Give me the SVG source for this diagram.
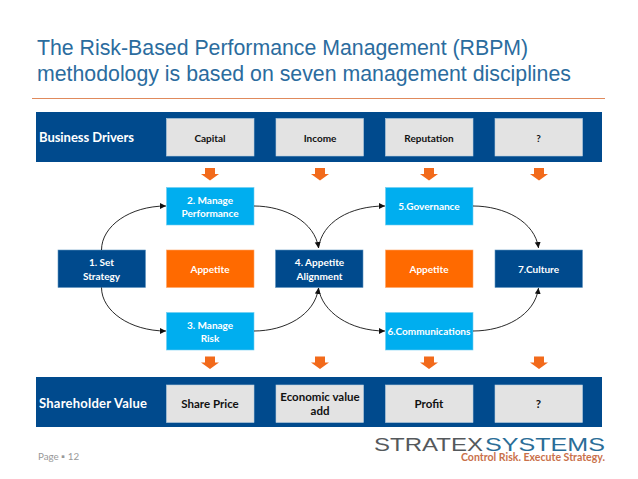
<svg xmlns="http://www.w3.org/2000/svg" width="638" height="479" viewBox="0 0 638 479">
<style>
text{font-family:"Lato","Open Sans","Liberation Sans",sans-serif;text-anchor:middle;font-size:10px;font-weight:700}
.t{font-family:"Liberation Sans",Arial,sans-serif;font-size:21.3px;font-weight:400;fill:#2b6c9e;text-anchor:start}
.band{fill:#004a8d}
.g{fill:#e3e3e3;stroke:#b9cfe0;stroke-width:.6}
.c{fill:#00aeef;stroke:#6fcdf0;stroke-width:.6}
.d{fill:#004a8d;stroke:#5f95c0;stroke-width:.6}
.o{fill:#ff6a00;stroke:#ffa566;stroke-width:.6}
.w{fill:#fff}.k{fill:#111}
.b{font-size:11.500px}
.h{fill:#fff;font-size:13px;text-anchor:start}
.a{fill:#f26a1b}
.e{fill:none;stroke:#111;stroke-width:.9;marker-end:url(#m)}
.l{font-family:"Liberation Sans",sans-serif;font-weight:400;font-size:18px;text-anchor:start}
</style>
<defs>
<marker id="m" markerUnits="userSpaceOnUse" markerWidth="7" markerHeight="7" refX="6" refY="3" orient="auto"><path d="M0 0L6 3L0 6z" fill="#111"/></marker>
<path id="ar" d="M-5 -6H5V0H9L0 6.500L-9 0H-5z"/>
</defs>
<rect width="638" height="479" fill="#fff"/>
<text class="t" x="37" y="54.500">The Risk-Based Performance Management (RBPM)</text>
<text class="t" x="37" y="80.500">methodology is based on seven management disciplines</text>
<rect x="32" y="98" width="573" height="1" fill="#e08a5c"/>
<g id="band-top"><rect class="band" x="36" y="112" width="566" height="50"/><text class="h" x="39" y="142" textLength="95">Business Drivers</text></g>
<g id="band-bottom"><rect class="band" x="36" y="377" width="566" height="50"/><text class="h" x="39" y="407.500" textLength="108">Shareholder Value</text></g>
<g id="capital"><rect class="g" x="166.500" y="118.500" width="87.500" height="37.500"/><text class="k" x="210" y="141.500">Capital</text></g>
<g id="income"><rect class="g" x="276" y="118.500" width="87.500" height="37.500"/><text class="k" x="320" y="141.500">Income</text></g>
<g id="reputation"><rect class="g" x="385.500" y="118.500" width="87.500" height="37.500"/><text class="k" x="429" y="141.500">Reputation</text></g>
<g id="q1"><rect class="g" x="495" y="118.500" width="87.500" height="37.500"/><text class="k" x="538.500" y="141.500">?</text></g>
<g id="n2"><rect class="c" x="166.500" y="187.500" width="87.500" height="37.500"/><text class="w" x="210" y="203.500">2. Manage</text><text class="w" x="210" y="216.500">Performance</text></g>
<g id="n5"><rect class="c" x="385.500" y="187.500" width="87.500" height="37.500"/><text class="w" x="429" y="210">5.Governance</text></g>
<g id="n1"><rect class="d" x="58" y="250" width="87.500" height="37.500"/><text class="w" x="101.500" y="266">1. Set</text><text class="w" x="101.500" y="279.500">Strategy</text></g>
<g id="appetite1"><rect class="o" x="166.500" y="250" width="87.500" height="37.500"/><text class="w" x="210" y="272.500">Appetite</text></g>
<g id="n4"><rect class="d" x="275.500" y="250" width="87.500" height="37.500"/><text class="w" x="319.500" y="266">4. Appetite</text><text class="w" x="319.500" y="279.500">Alignment</text></g>
<g id="appetite2"><rect class="o" x="385.500" y="250" width="87.500" height="37.500"/><text class="w" x="429" y="272.500">Appetite</text></g>
<g id="n7"><rect class="d" x="495" y="250" width="87.500" height="37.500"/><text class="w" x="538.500" y="272.500">7.Culture</text></g>
<g id="n3"><rect class="c" x="166.500" y="312.500" width="87.500" height="37.500"/><text class="w" x="210" y="328.500">3. Manage</text><text class="w" x="210" y="341.500">Risk</text></g>
<g id="n6"><rect class="c" x="385.500" y="312.500" width="87.500" height="37.500"/><text class="w" x="429" y="335">6.Communications</text></g>
<g id="share"><rect class="g" x="166.500" y="385" width="87.500" height="37.500"/><text class="k b" x="210" y="408">Share Price</text></g>
<g id="eva"><rect class="g" x="276" y="385" width="87.500" height="37.500"/><text class="k b" x="320" y="401">Economic value</text><text class="k b" x="320" y="415">add</text></g>
<g id="profit"><rect class="g" x="385.500" y="385" width="87.500" height="37.500"/><text class="k b" x="429" y="408">Profit</text></g>
<g id="q2"><rect class="g" x="495" y="385" width="87.500" height="37.500"/><text class="k b" x="538.500" y="408">?</text></g>
<g id="connectors">
<path class="e" d="M101.500 250C101.500 226 130 206 166 206"/>
<path class="e" d="M254 206C285 206 315 222 318.500 248"/>
<path class="e" d="M318.500 248C322 222 350 206 385 206"/>
<path class="e" d="M473 206C505 206 535 222 538.500 248"/>
<path class="e" d="M101.500 287.500C101.500 311 130 331 166 331"/>
<path class="e" d="M254 331C285 331 315 315 318.500 288"/>
<path class="e" d="M318.500 288C322 312 350 331 385 331"/>
<path class="e" d="M473 331C505 331 535 315 538.500 288"/>
<g class="a">
<use href="#ar" x="210" y="174"/><use href="#ar" x="320" y="174"/><use href="#ar" x="429" y="174"/><use href="#ar" x="539" y="174"/>
<use href="#ar" x="210" y="362.500"/><use href="#ar" x="320" y="362.500"/><use href="#ar" x="429" y="362.500"/><use href="#ar" x="539" y="362.500"/>
</g>
</g>
<g id="footer">
<text x="38" y="460" style="font-weight:400;fill:#999;font-size:9.800px;text-anchor:start">Page ▪ 12</text>
<text class="l" x="374" y="451" textLength="109" lengthAdjust="spacingAndGlyphs" style="fill:#55595c">STRATEX</text>
<text class="l" x="485" y="451" textLength="120" lengthAdjust="spacingAndGlyphs" style="fill:#2a6d97">SYSTEMS</text>
<text x="461" y="461" textLength="144" lengthAdjust="spacingAndGlyphs" style="fill:#c9704a;font-size:11px;text-anchor:start">Control Risk. Execute Strategy.</text>
</g>
</svg>
